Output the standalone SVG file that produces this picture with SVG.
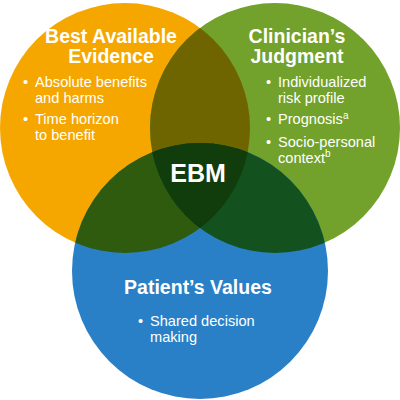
<svg xmlns="http://www.w3.org/2000/svg" width="400" height="400" viewBox="0 0 400 400">
<style>
text{font-family:"Liberation Sans",Arial,Helvetica,sans-serif;fill:#fff}
.h{font-weight:bold;font-size:19.5px;text-anchor:middle}
.b{font-size:14.6px}
.sup{font-size:10px}
</style>
<defs>
<clipPath id="cO"><circle cx="125" cy="128" r="125"/></clipPath>
<clipPath id="cG"><circle cx="275" cy="128" r="125"/></clipPath>
</defs>
<rect width="400" height="400" fill="#fff"/>
<g id="evidence">
<circle cx="125" cy="128" r="125" fill="#F5A700"/>
</g>
<g id="judgment">
<circle cx="275" cy="128" r="125" fill="#72A22B"/>
</g>
<g id="values">
<circle cx="200" cy="271" r="128" fill="#2A80C6"/>
</g>
<g id="overlaps">
<circle cx="275" cy="128" r="125" fill="#6E6500" clip-path="url(#cO)"/>
<circle cx="200" cy="271" r="128" fill="#2E5B0E" clip-path="url(#cO)"/>
<circle cx="200" cy="271" r="128" fill="#13521E" clip-path="url(#cG)"/>
<g clip-path="url(#cO)"><circle cx="200" cy="271" r="128" fill="#113C0B" clip-path="url(#cG)"/></g>
</g>
<g id="evidence-text">
<text class="h" x="111" y="43">Best Available</text>
<text class="h" x="111" y="63">Evidence</text>
<text class="b" x="23" y="86.5">•</text>
<text class="b" x="35" y="86.5">Absolute benefits</text>
<text class="b" x="35" y="102.5">and harms</text>
<text class="b" x="23" y="124">•</text>
<text class="b" x="35" y="124">Time horizon</text>
<text class="b" x="35" y="140">to benefit</text>
</g>
<g id="judgment-text">
<text class="h" x="297" y="43">Clinician’s</text>
<text class="h" x="297" y="63">Judgment</text>
<text class="b" x="266" y="86.5">•</text>
<text class="b" x="278" y="86.5">Individualized</text>
<text class="b" x="278" y="102.5">risk profile</text>
<text class="b" x="266" y="124">•</text>
<text class="b" x="278" y="124">Prognosis<tspan class="sup" dy="-5.5">a</tspan></text>
<text class="b" x="266" y="146.5">•</text>
<text class="b" x="278" y="146.5">Socio-personal</text>
<text class="b" x="278" y="162.5">context<tspan class="sup" dy="-5.5">b</tspan></text>
</g>
<g id="ebm">
<text x="198" y="182" style="font-weight:bold;font-size:25px;text-anchor:middle">EBM</text>
</g>
<g id="values-text">
<text class="h" x="198" y="294">Patient’s Values</text>
<text class="b" x="138" y="325.5">•</text>
<text class="b" x="150" y="325.5">Shared decision</text>
<text class="b" x="150" y="342">making</text>
</g>
</svg>
